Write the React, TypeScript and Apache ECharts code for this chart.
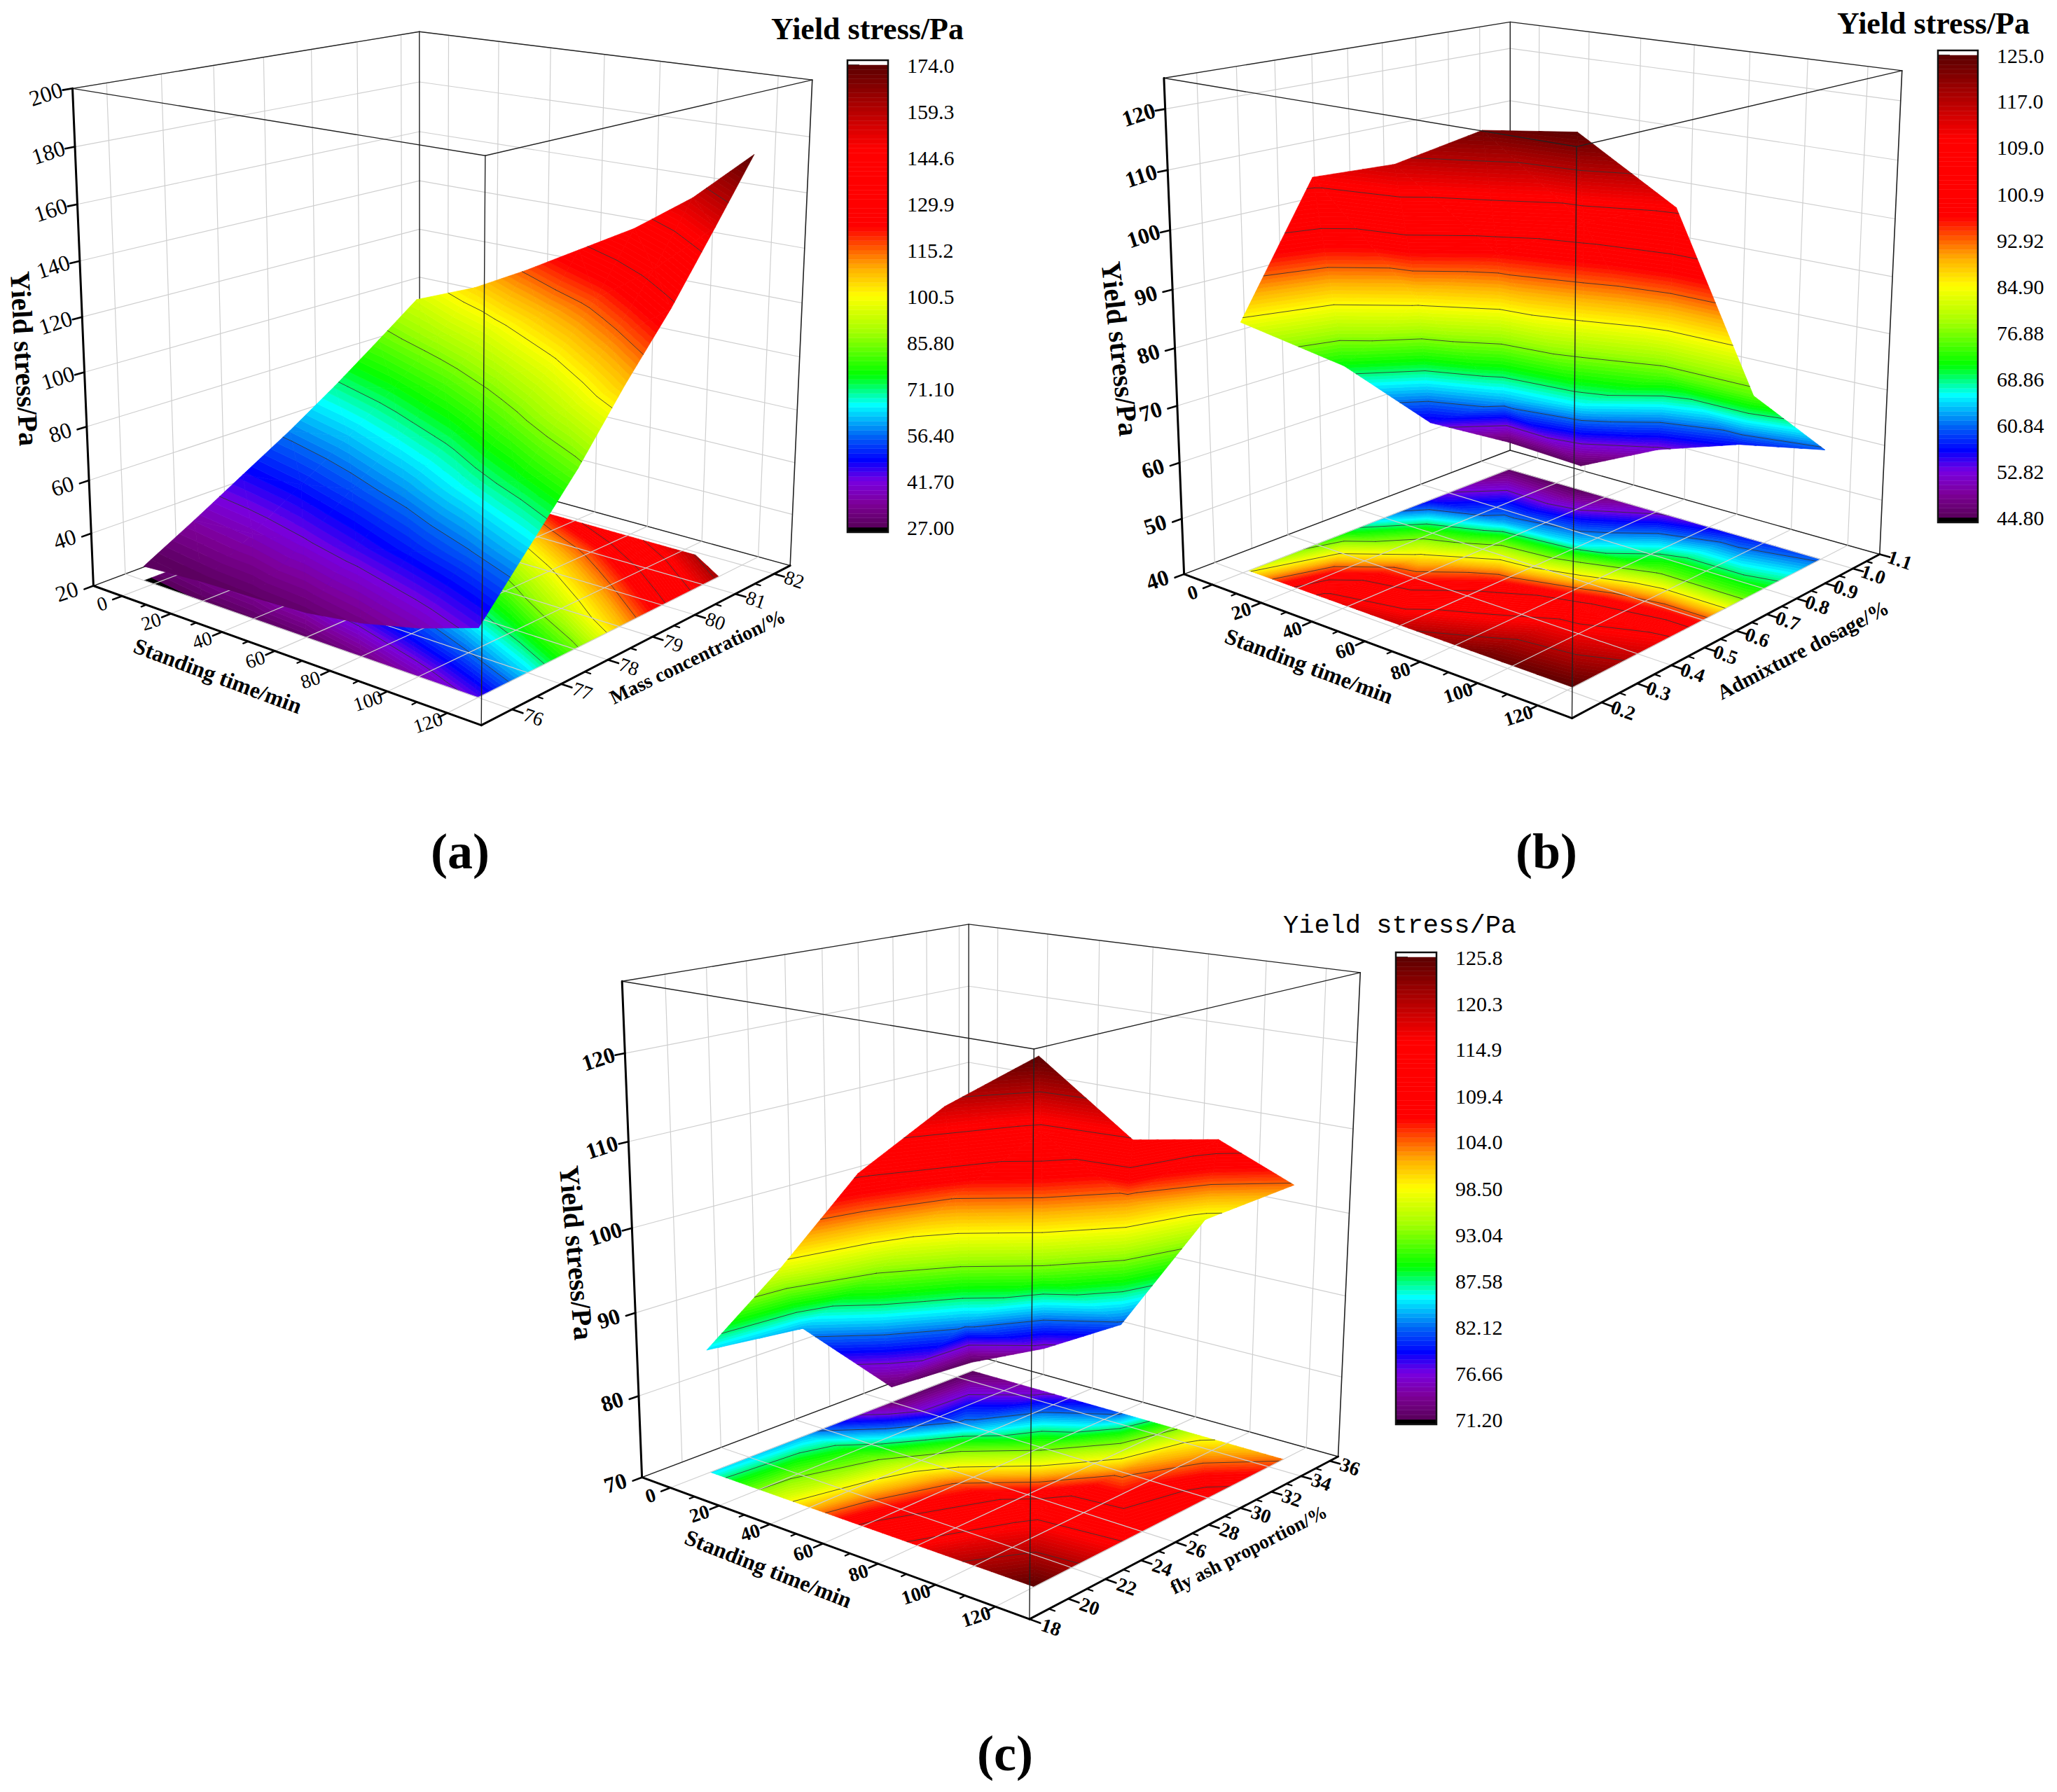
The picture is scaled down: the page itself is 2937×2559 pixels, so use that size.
import React, { useEffect, useRef } from "react";
import * as echarts from "echarts";

// ---------- data ----------
const timeA = [-4, 20, 40, 60, 80, 100, 120];
const concA = [76, 77, 78, 79, 80, 81, 81.9];
const stressA = [
  [25.5, 36, 47, 58, 70, 83, 95],
  [27.3, 38, 50, 62, 75, 90, 105],
  [28, 41, 54, 67, 81, 97, 116],
  [29, 45, 59, 73, 89, 107, 128],
  [32, 50, 66, 82, 99, 118, 140],
  [37, 56, 74, 93, 112, 133, 155],
  [44, 64, 84, 107, 128, 152, 174],
];
const timeB = [0, 30, 60, 90, 120];
const dosageB = [0.215, 0.49, 0.745, 1.0];
const stressB = [
  [84, 71, 55, 45.5],
  [111, 86, 63, 44.8],
  [115.5, 97, 66, 52],
  [123, 105, 75, 57],
  [125, 110, 75, 60],
];
const timeC = [0, 30, 60, 90, 120];
const flyC = [20, 25, 30, 35];
const stressC = [
  [85, 83.7, 72, 71.2],
  [97, 93, 83, 75.8],
  [110, 104.5, 92, 81.6],
  [119, 113.5, 103, 97.3],
  [125.8, 114.6, 111.8, 103.6],
];

const timeTicks = [0, 20, 40, 60, 80, 100, 120];
const timeMinor = [10, 30, 50, 70, 90, 110];
const concTicksA = ["76", "77", "78", "79", "80", "81", "82"];
const concMinorA = [76.5, 77.5, 78.5, 79.5, 80.5, 81.5];
const concTicksB = ["0.2", "0.3", "0.4", "0.5", "0.6", "0.7", "0.8", "0.9", "1.0", "1.1"];
const concMinorB = [0.25, 0.35, 0.45, 0.55, 0.65, 0.75, 0.85, 0.95, 1.05];
const concTicksC = ["18", "20", "22", "24", "26", "28", "30", "32", "34", "36"];
const concMinorC = [19, 21, 23, 25, 27, 29, 31, 33, 35];
const floorLinesA = [76, 77, 78, 79, 80, 81, 82];
const floorLinesB = [0.2, 0.4, 0.6, 0.8, 1.0];
const floorLinesC = [18, 22, 26, 30, 34];
const zTicksA = [20, 40, 60, 80, 100, 120, 140, 160, 180, 200];
const zTicksB = [40, 50, 60, 70, 80, 90, 100, 110, 120];
const zTicksC = [70, 80, 90, 100, 110, 120];
const barLabelsA = ["27.00", "41.70", "56.40", "71.10", "85.80", "100.5", "115.2", "129.9", "144.6", "159.3", "174.0"];
const barLabelsB = ["44.80", "52.82", "60.84", "68.86", "76.88", "84.90", "92.92", "100.9", "109.0", "117.0", "125.0"];
const barLabelsC = ["71.20", "76.66", "82.12", "87.58", "93.04", "98.50", "104.0", "109.4", "114.9", "120.3", "125.8"];

const SERIF = "Liberation Serif";
const MONO = "Liberation Mono";
const LEVELS = 100;
const ramp: [number, number[]][] = [
  [0, [88, 0, 90]],
  [0.05, [125, 0, 150]],
  [0.1, [120, 0, 225]],
  [0.145, [0, 0, 255]],
  [0.2, [0, 105, 245]],
  [0.265, [0, 255, 255]],
  [0.33, [0, 255, 0]],
  [0.42, [160, 255, 0]],
  [0.5, [255, 255, 0]],
  [0.56, [255, 175, 0]],
  [0.65, [255, 0, 0]],
  [0.82, [255, 0, 0]],
  [1, [90, 0, 0]],
];
function rampColor(f: number) {
  for (let i = 1; i < ramp.length; i++) {
    if (f <= ramp[i][0]) {
      const a = ramp[i - 1], b = ramp[i];
      const k = (f - a[0]) / (b[0] - a[0]);
      const c = a[1].map((v, n) => Math.round(v + (b[1][n] - v) * k));
      return `rgb(${c[0]},${c[1]},${c[2]})`;
    }
  }
  return "rgb(90,0,0)";
}
const bandColor = (b: number) => (b < 0 ? "#000" : rampColor((b + 0.5) / LEVELS));

// ---------- projective fit ----------
function solve(A: number[][], b: number[]) {
  const n = b.length;
  const M = A.map((r, i) => [...r, b[i]]);
  for (let i = 0; i < n; i++) {
    let p = i;
    for (let r = i + 1; r < n; r++) if (Math.abs(M[r][i]) > Math.abs(M[p][i])) p = r;
    [M[i], M[p]] = [M[p], M[i]];
    for (let r = 0; r < n; r++) {
      if (r === i) continue;
      const f = M[r][i] / M[i][i];
      for (let c = i; c <= n; c++) M[r][c] -= f * M[i][c];
    }
  }
  return M.map((r, i) => r[n] / r[i]);
}
const unitCorners = [
  [0, 0, 0], [1, 0, 0], [1, 1, 0], [0, 1, 0],
  [0, 0, 1], [1, 0, 1], [1, 1, 1], [0, 1, 1],
];
function fitCamera(px: number[][]) {
  const rows: number[][] = [];
  const rhs: number[] = [];
  unitCorners.forEach((c, i) => {
    const x = px[i][0] / 1000, y = px[i][1] / 1000;
    rows.push([c[0], c[1], c[2], 1, 0, 0, 0, 0, -x * c[0], -x * c[1], -x * c[2]]);
    rhs.push(x);
    rows.push([0, 0, 0, 0, c[0], c[1], c[2], 1, -y * c[0], -y * c[1], -y * c[2]]);
    rhs.push(y);
  });
  const N = Array.from({ length: 11 }, (_, a) =>
    Array.from({ length: 11 }, (_, b) => rows.reduce((s, r) => s + r[a] * r[b], 0)),
  );
  const B = Array.from({ length: 11 }, (_, a) => rows.reduce((s, r, k) => s + r[a] * rhs[k], 0));
  const p = solve(N, B);
  const depth = (u: number, v: number, w: number) => p[8] * u + p[9] * v + p[10] * w + 1;
  const project = (u: number, v: number, w: number) => {
    const d = depth(u, v, w);
    return [
      ((p[0] * u + p[1] * v + p[2] * w + p[3]) / d) * 1000,
      ((p[4] * u + p[5] * v + p[6] * w + p[7]) / d) * 1000,
    ];
  };
  return { project, depth };
}

// ---------- panels ----------
type Panel = any;
const panels: Panel[] = [
  {
    time: timeA, conc: concA, stress: stressA,
    tRange: [-12, 131], cRange: [75.4, 82.43], zRange: [20, 200],
    corners: [[134, 835], [686, 1037], [1129, 806], [599, 664], [103, 126], [694, 223], [1159, 114], [599, 45]],
    cTicks: concTicksA, cMinor: concMinorA, cLines: floorLinesA, zTicks: zTicksA, bold: false,
    floorCut: [120, 81.4, 105, 81.9],
    tTitle: { x: 311, y: 965, r: -20.5 }, cTitle: { x: 996, y: 938, r: 25.8, text: "Mass concentration/%", size: 28.5 }, zTitle: { x: 35, y: 512, r: -87 },
    bar: { left: 1210, right: 1268, top: 93, bottom: 753, cap: 7, labels: barLabelsA },
    title: { x: 1101, y: 41, family: SERIF, size: 44, weight: "bold" },
    letter: { x: 657, y: 1216, text: "(a)" },
  },
  {
    time: timeB, conc: dosageB, stress: stressB,
    tRange: [-12, 131], cRange: [0.12, 1.1], zRange: [40, 125],
    corners: [[1691, 821], [2244, 1025], [2684, 792], [2156, 642], [1662, 112], [2251, 208], [2716, 102], [2156, 31]],
    cTicks: concTicksB, cMinor: concMinorB, cLines: floorLinesB, zTicks: zTicksB, bold: true,
    tTitle: { x: 1869, y: 951, r: -20.5 }, cTitle: { x: 2574, y: 928, r: 27.5, text: "Admixture dosage/%", size: 30 }, zTitle: { x: 1599, y: 498, r: -84 },
    bar: { left: 2767, right: 2824, top: 79, bottom: 739, cap: 7, labels: barLabelsB },
    title: { x: 2623, y: 33, family: SERIF, size: 44, weight: "bold" },
    letter: { x: 2208, y: 1216, text: "(b)" },
  },
  {
    time: timeC, conc: flyC, stress: stressC,
    tRange: [-12, 131], cRange: [18, 36.6], zRange: [70, 128],
    corners: [[917, 2110], [1469, 2312], [1911, 2080], [1383, 1933], [888, 1401], [1477, 1498], [1942, 1389], [1383, 1320]],
    cTicks: concTicksC, cMinor: concMinorC, cLines: floorLinesC, zTicks: zTicksC, bold: true,
    tTitle: { x: 1097, y: 2240, r: -21.5 }, cTitle: { x: 1783, y: 2213, r: 27, text: "fly ash proportion/%", size: 27.5 }, zTitle: { x: 823, y: 1789, r: -85 },
    bar: { left: 1993, right: 2051, top: 1367, bottom: 2027, cap: 7, labels: barLabelsC },
    title: { x: 1832, y: 1322, family: MONO, size: 37, weight: "normal" },
    letter: { x: 1435, y: 2504, text: "(c)" },
  },
];

// ---------- geometry helpers ----------
type V = number[]; // [u, v, stress]
function clipBy(poly: V[], f: (a: V) => number) {
  const out: V[] = [];
  for (let i = 0; i < poly.length; i++) {
    const a = poly[i], b = poly[(i + 1) % poly.length];
    const fa = f(a), fb = f(b);
    if (fa >= 0) out.push(a);
    if (fa >= 0 !== fb >= 0) {
      const k = fa / (fa - fb);
      out.push([a[0] + (b[0] - a[0]) * k, a[1] + (b[1] - a[1]) * k, a[2] + (b[2] - a[2]) * k]);
    }
  }
  return out;
}

function polySeries(items: any[], z: number) {
  return {
    type: "custom", coordinateSystem: "none", silent: true, z, progressive: 0, clip: false,
    data: items.map((p) => [p.band]),
    renderItem: (params: any) => {
      const it = items[params.dataIndex];
      const fill = bandColor(it.band);
      return { type: "polygon", shape: { points: it.pts }, style: { fill, stroke: fill, lineWidth: 0.7 } };
    },
  };
}
function lineSeries(items: any[], z: number) {
  return {
    type: "custom", coordinateSystem: "none", silent: true, z, progressive: 0, clip: false,
    data: items.map((s) => [s.a[0], s.a[1], s.b[0], s.b[1]]),
    renderItem: (params: any) => {
      const s = items[params.dataIndex];
      return {
        type: "line",
        shape: { x1: s.a[0], y1: s.a[1], x2: s.b[0], y2: s.b[1] },
        style: { stroke: s.color, lineWidth: s.width, lineCap: "round" },
      };
    },
  };
}

function buildPanel(p: Panel, index: number) {
  const cam = fitCamera(p.corners);
  const nt = (t: number) => (t - p.tRange[0]) / (p.tRange[1] - p.tRange[0]);
  const nc = (c: number) => (c - p.cRange[0]) / (p.cRange[1] - p.cRange[0]);
  const nz = (z: number) => (z - p.zRange[0]) / (p.zRange[1] - p.zRange[0]);
  const labels: string[] = p.bar.labels;
  const min = Number(labels[0]), max = Number(labels[labels.length - 1]);
  const step = (max - min) / LEVELS;

  let floorSide = (_: V) => 1;
  if (p.floorCut) {
    const [t0, c0, t1, c1] = p.floorCut;
    const u0 = nt(t0), v0 = nc(c0), u1 = nt(t1), v1 = nc(c1);
    const raw = (a: V) => (v1 - v0) * (a[0] - u0) - (u1 - u0) * (a[1] - v0);
    const sign = raw([0, 0, 0]) >= 0 ? 1 : -1;
    floorSide = (a: V) => sign * raw(a);
  }

  // triangles
  const tris: V[][] = [];
  for (let i = 0; i < p.time.length - 1; i++) {
    for (let j = 0; j < p.conc.length - 1; j++) {
      const g = (a: number, b: number): V => [nt(p.time[a]), nc(p.conc[b]), p.stress[a][b]];
      tris.push([g(i, j), g(i + 1, j), g(i, j + 1)]);
      tris.push([g(i + 1, j), g(i + 1, j + 1), g(i, j + 1)]);
    }
  }
  const triDepth = (t: V[]) => t.reduce((s, a) => s + cam.depth(a[0], a[1], nz(a[2])), 0) / 3;
  const sorted = [...tris].sort((a, b) => triDepth(b) - triDepth(a));

  const floor: any[] = [], surf: any[] = [], floorLines: any[] = [], surfLines: any[] = [];
  const lineColor = "rgba(50,50,50,0.85)";
  sorted.forEach((t) => {
    for (let b = -1; b < LEVELS; b++) {
      const lo = min + b * step, hi = lo + step;
      const zs = t.map((a) => a[2]);
      if (Math.max(...zs) < lo && b >= 0) continue;
      if (Math.min(...zs) > hi) continue;
      let poly: V[] = t;
      if (b >= 0) poly = clipBy(poly, (a) => a[2] - lo);
      if (poly.length && b < LEVELS - 1) poly = clipBy(poly, (a) => hi - a[2]);
      if (poly.length < 3) continue;
      surf.push({ band: Math.max(b, 0), pts: poly.map((a) => cam.project(a[0], a[1], nz(a[2]))) });
      const fp = clipBy(poly, floorSide);
      if (fp.length >= 3) floor.push({ band: b, pts: fp.map((a) => cam.project(a[0], a[1], 0)) });
    }
    for (let k = 1; k < 10; k++) {
      const L = min + k * step * 10;
      const hits: V[] = [];
      for (let e = 0; e < 3; e++) {
        const a = t[e], c = t[(e + 1) % 3];
        if ((a[2] - L) * (c[2] - L) < 0) {
          const f = (L - a[2]) / (c[2] - a[2]);
          hits.push([a[0] + (c[0] - a[0]) * f, a[1] + (c[1] - a[1]) * f, L]);
        }
      }
      if (hits.length === 2) {
        surfLines.push({ a: cam.project(hits[0][0], hits[0][1], nz(L)), b: cam.project(hits[1][0], hits[1][1], nz(L)), color: lineColor, width: 1 });
        if (floorSide(hits[0]) >= 0 && floorSide(hits[1]) >= 0) {
          floorLines.push({ a: cam.project(hits[0][0], hits[0][1], 0), b: cam.project(hits[1][0], hits[1][1], 0), color: lineColor, width: 1 });
        }
      }
    }
  });

  // walls, grids, frame
  const seg = (a: number[], b: number[], color: string, width: number) => ({
    a: cam.project(a[0], a[1], a[2]), b: cam.project(b[0], b[1], b[2]), color, width,
  });
  const gridColor = "#cfcfcf";
  const walls: any[] = [], floorGrid: any[] = [], back: any[] = [], front: any[] = [];
  const cMajor: number[] = p.cTicks.map(Number);
  timeTicks.forEach((t) => {
    const u = nt(t);
    floorGrid.push(seg([u, 0, 0], [u, 1, 0], gridColor, 1.2));
    walls.push(seg([u, 1, 0], [u, 1, 1], gridColor, 1.2));
  });
  (p.cLines as number[]).forEach((c) => floorGrid.push(seg([0, nc(c), 0], [1, nc(c), 0], gridColor, 1.2)));
  cMajor.forEach((c) => walls.push(seg([0, nc(c), 0], [0, nc(c), 1], gridColor, 1.2)));
  (p.zTicks as number[]).forEach((z) => {
    const w = nz(z);
    walls.push(seg([0, 0, w], [0, 1, w], gridColor, 1.2));
    walls.push(seg([0, 1, w], [1, 1, w], gridColor, 1.2));
  });
  const thin = "#222", thick = "#000";
  back.push(seg([0, 1, 0], [0, 1, 1], thin, 1.4));
  back.push(seg([1, 1, 0], [1, 1, 1], thin, 1.6));
  back.push(seg([0, 0, 0], [0, 1, 0], thin, 1.4));
  back.push(seg([0, 1, 0], [1, 1, 0], thin, 1.4));
  back.push(seg([0, 0, 1], [0, 1, 1], thin, 1.4));
  back.push(seg([0, 1, 1], [1, 1, 1], thin, 1.4));
  front.push(seg([0, 0, 1], [1, 0, 1], thin, 1.4));
  front.push(seg([1, 0, 1], [1, 1, 1], thin, 1.4));
  front.push(seg([1, 0, 0], [1, 0, 1], thin, 1.4));
  front.push(seg([0, 0, 0], [0, 0, 1], thick, 3));
  front.push(seg([0, 0, 0], [1, 0, 0], thick, 3));
  front.push(seg([1, 0, 0], [1, 1, 0], thick, 3));

  const graphics: any[] = [];
  const font = { fontFamily: SERIF, fontWeight: p.bold ? "bold" : "normal", fill: "#000" };
  const text = (x: number, y: number, rDeg: number, str: string, size: number, extra: any = {}) =>
    graphics.push({
      type: "text", x, y, rotation: (rDeg * Math.PI) / 180, z: 100, silent: true,
      style: { text: str, fontSize: size, ...font, align: "center", verticalAlign: "middle", ...extra },
    });

  timeTicks.forEach((t) => {
    const u = nt(t);
    front.push(seg([u, 0, 0], [u, -0.024, 0], thick, 2.6));
    const q = cam.project(u, -0.052, 0);
    text(q[0], q[1], 18, String(t), 28);
  });
  timeMinor.forEach((t) => front.push(seg([nt(t), 0, 0], [nt(t), -0.013, 0], thick, 2.2)));
  (p.cTicks as string[]).forEach((c) => {
    const v = nc(Number(c));
    front.push(seg([1, v, 0], [1.024, v, 0], thick, 2.6));
    const q = cam.project(1.048, v, 0);
    text(q[0], q[1], -19, c, 28);
  });
  (p.cMinor as number[]).forEach((c) => front.push(seg([1, nc(c), 0], [1.013, nc(c), 0], thick, 2.2)));
  (p.zTicks as number[]).forEach((z) => {
    const w = nz(z);
    front.push(seg([0, 0, w], [0, -0.024, w], thick, 2.6));
    const q = cam.project(0, 0, w);
    text(q[0] - 38, q[1] + 8, 18, String(z), 32);
  });
  const bold = { fontWeight: "bold" };
  text(p.tTitle.x, p.tTitle.y, p.tTitle.r, "Standing time/min", 32, bold);
  text(p.cTitle.x, p.cTitle.y, p.cTitle.r, p.cTitle.text, p.cTitle.size, bold);
  text(p.zTitle.x, p.zTitle.y, p.zTitle.r, "Yield stress/Pa", 40, bold);
  graphics.push({
    type: "text", x: p.title.x, y: p.title.y, z: 100, silent: true,
    style: { text: "Yield stress/Pa", fontFamily: p.title.family, fontSize: p.title.size, fontWeight: p.title.weight, fill: "#000", align: "left", verticalAlign: "middle" },
  });
  graphics.push({
    type: "text", x: p.letter.x, y: p.letter.y, z: 100, silent: true,
    style: { text: p.letter.text, fontFamily: SERIF, fontSize: 72, fontWeight: "bold", fill: "#000", align: "center", verticalAlign: "middle" },
  });

  // colour bar on a real value axis
  const b = p.bar;
  const values = labels.map(Number);
  const grid = { left: b.left, top: b.top, width: b.right - b.left, height: b.bottom - b.top };
  const xAxis = { gridIndex: index, type: "value", min: 0, max: 1, show: false };
  const yAxis = {
    gridIndex: index, type: "value", min, max, position: "right",
    axisLine: { show: false }, splitLine: { show: false },
    axisTick: { show: true, length: 17, customValues: values, lineStyle: { color: "#000", width: 2.5 } },
    axisLabel: {
      show: true, margin: 27, customValues: values, fontFamily: SERIF, fontSize: 30, color: "#000",
      formatter: (v: number) => {
        let best = 0;
        values.forEach((x, i) => { if (Math.abs(x - v) < Math.abs(values[best] - v)) best = i; });
        return labels[best];
      },
    },
  };
  const capValue = (b.cap / (b.bottom - b.top)) * (max - min);
  const bandRows = Array.from({ length: LEVELS }, (_, i) => [min + i * step, min + (i + 1) * step, i]);
  const barRows = [[min - capValue, min, -1], ...bandRows];
  const barSeries = {
    type: "custom", coordinateSystem: "cartesian2d", xAxisIndex: index, yAxisIndex: index, silent: true, z: 5, clip: false, progressive: 0,
    encode: { y: [0, 1] },
    data: barRows,
    renderItem: (_: any, api: any) => {
      const p0 = api.coord([0, api.value(0)]);
      const p1 = api.coord([1, api.value(1)]);
      const fill = bandColor(api.value(2));
      return { type: "rect", shape: { x: p0[0], y: p1[1], width: p1[0] - p0[0], height: p0[1] - p1[1] }, style: { fill, stroke: fill, lineWidth: 0.5 } };
    },
  };
  const frameSeries = {
    type: "custom", coordinateSystem: "cartesian2d", xAxisIndex: index, yAxisIndex: index, silent: true, z: 6, clip: false,
    encode: { y: [0, 1] },
    data: [[min - capValue, max + capValue]],
    renderItem: (_: any, api: any) => {
      const p0 = api.coord([0, api.value(0)]);
      const p1 = api.coord([1, api.value(1)]);
      return { type: "rect", shape: { x: p0[0], y: p1[1], width: p1[0] - p0[0], height: p0[1] - p1[1] }, style: { fill: "none", stroke: "#111", lineWidth: 2.5 } };
    },
  };

  const series = [
    lineSeries(walls, 1),
    lineSeries(back, 1),
    polySeries(floor, 2),
    lineSeries(floorLines, 2),
    lineSeries(floorGrid, 3),
    polySeries(surf, 4),
    lineSeries(surfLines, 4),
    lineSeries(front, 5),
    barSeries,
    frameSeries,
  ];
  return { series, graphics, grid, xAxis, yAxis };
}

export default function App() {
  const ref = useRef<HTMLDivElement>(null);
  useEffect(() => {
    document.body.style.margin = "0";
    const chart = echarts.init(ref.current!, undefined, { renderer: "svg" });
    const built = panels.map(buildPanel);
    chart.setOption({
      animation: false,
      backgroundColor: "#fff",
      grid: built.map((b) => b.grid),
      xAxis: built.map((b) => b.xAxis),
      yAxis: built.map((b) => b.yAxis),
      series: built.flatMap((b) => b.series),
      graphic: built.flatMap((b) => b.graphics),
    });
    return () => chart.dispose();
  }, []);
  return <div ref={ref} style={{ width: 2937, height: 2559, position: "absolute", left: 0, top: 0 }} />;
}
